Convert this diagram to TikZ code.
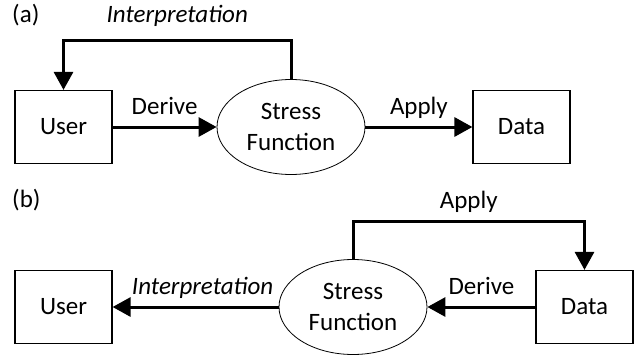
\documentclass[tikz,border=0pt]{standalone}
\usepackage{fontspec}
\setmainfont{Carlito}
\usetikzlibrary{arrows.meta,shapes.geometric,positioning}

\begin{document}
\begin{tikzpicture}[x=1pt,y=-1pt,
    font=\fontsize{25}{31}\selectfont,
    box/.style={draw,line width=1.2pt,minimum width=97pt,minimum height=73pt,inner sep=0pt},
    stressfn/.style={draw,ellipse,line width=0.8pt,minimum width=148pt,minimum height=95pt,inner sep=0pt,align=center},
    flow/.style={line width=3pt,-{Triangle[length=18pt,width=19pt]}},
    lbl/.style={anchor=base,inner sep=0pt,yshift=13pt}]
    % canvas of the picture (pixels of the reference, y pointing down)
    \useasboundingbox (0,0) rectangle (635,354);

    % variables
    \def\rowa{127}   % middle line of panel (a)
    \def\rowb{307}   % middle line of panel (b)

    % Panel (a): user derives the function, applies it to data
    \node[anchor=west,inner sep=0pt] (taga) at (12,15) {(a)};
    \node[box] (usera) at (63.5,\rowa) {User};
    \node[stressfn] (sfa) at (291,\rowa) {Stress\\Function};
    \node[box] (dataa) at (521.5,\rowa) {Data};
    \coordinate (topa) at (0,40);

    \draw[flow] (usera) -- node[lbl] (derivea) {Derive} (sfa);
    \draw[flow] (sfa) -- node[lbl] (applya) {Apply} (dataa);
    \draw[flow] (sfa.north) -- (sfa.north |- topa) -| node[lbl,pos=0.25,yshift=5pt] (interpa) {\itshape Interpretation} (usera.north);

    % Panel (b): function derived from the data
    \node[anchor=west,inner sep=0pt] (tagb) at (12,200) {(b)};
    \node[box] (userb) at (63.5,\rowb) {User};
    \node[stressfn] (sfb) at (353,\rowb) {Stress\\Function};
    \node[box] (datab) at (584.5,\rowb) {Data};
    \coordinate (topb) at (0,221);

    \draw[flow] (datab) -- node[lbl] (deriveb) {Derive} (sfb);
    \draw[flow] (sfb) -- node[lbl,xshift=7pt] (interpb) {\itshape Interpretation} (userb);
    \draw[flow] (sfb.north) -- (sfb.north |- topb) -| node[lbl,pos=0.25] (applyb) {Apply} (datab.north);

\end{tikzpicture}
\end{document}
